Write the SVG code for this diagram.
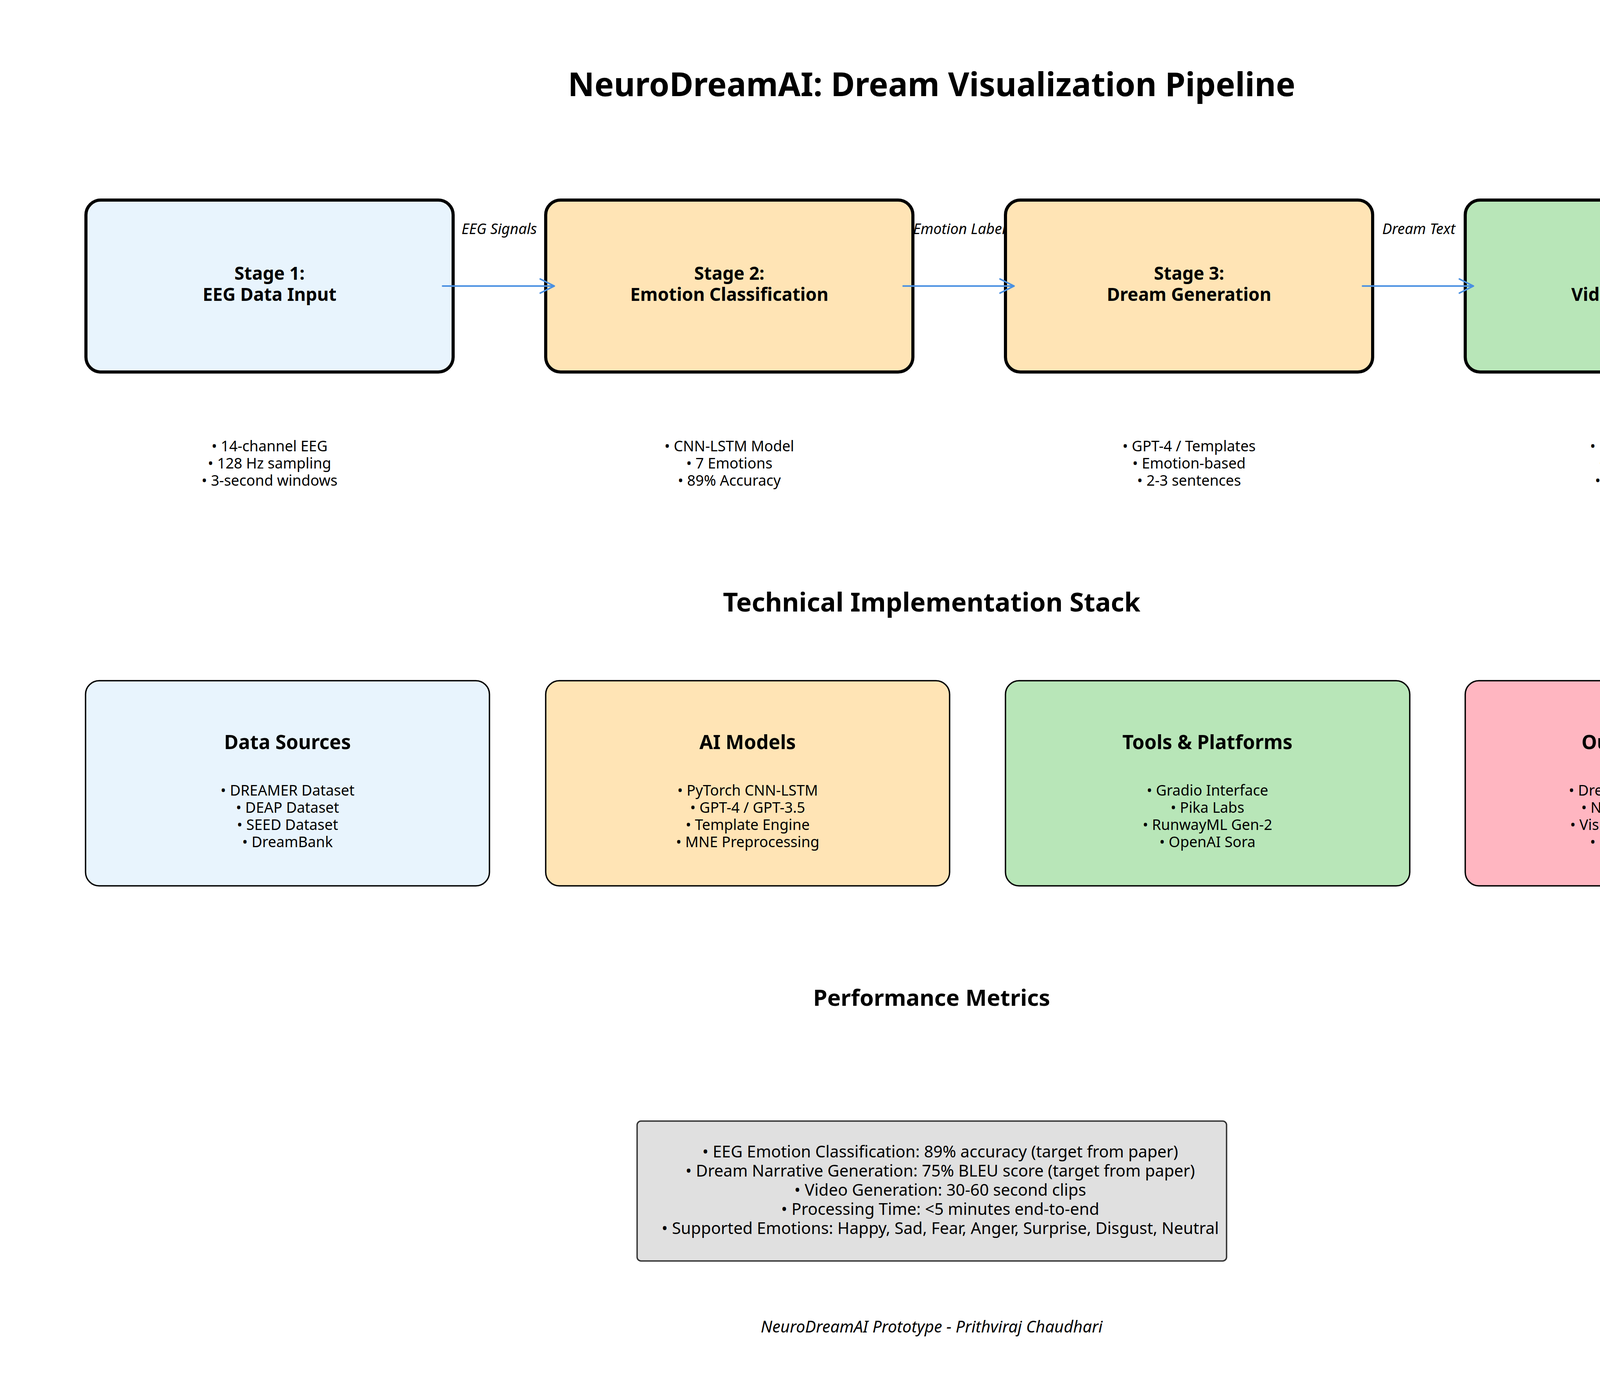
<svg xmlns="http://www.w3.org/2000/svg" width="4770" height="3570" viewBox="0 0 4770 3570">
<defs>
<style>
text{font-family:"Noto Sans","Open Sans","DejaVu Sans",sans-serif;fill:#000;text-anchor:middle}
.h1{font-size:83.5px;font-weight:bold}
.h2{font-size:66.7px;font-weight:bold}
.h3{font-size:58px;font-weight:bold}
.stage{font-size:45.8px;font-weight:bold}
.sub{font-size:37.5px}
.edge{font-size:37.5px;font-style:italic}
.ctitle{font-size:50px;font-weight:bold}
.met{font-size:41.7px}
.foot{font-size:41.7px;font-style:italic}
.sbox{stroke:#000;stroke-width:8}
.tbox{stroke:#000;stroke-width:3.5}
.blue{fill:#E8F4FD}.orange{fill:#FFE4B5}.green{fill:#B8E6B8}.pink{fill:#FFB6C1}
.conn{stroke:#4A90E2;stroke-width:4;fill:none;stroke-linecap:round;stroke-linejoin:round}
</style>
</defs>
<rect x="0" y="0" width="4770" height="3570" fill="#fff"/>
<text class="h1" x="2385" y="246">NeuroDreamAI: Dream Visualization Pipeline</text>

<g id="edge-labels">
<text class="edge" x="1278" y="599">EEG Signals</text>
<text class="edge" x="2456" y="599">Emotion Label</text>
<text class="edge" x="3632" y="599">Dream Text</text>
</g>

<g id="stage1">
<rect class="sbox blue" x="220" y="512" width="940" height="440" rx="38"/>
<text class="stage" x="690" y="716">Stage 1:</text>
<text class="stage" x="690" y="770">EEG Data Input</text>
</g>
<g id="stage2">
<rect class="sbox orange" x="1397" y="512" width="940" height="440" rx="38"/>
<text class="stage" x="1867" y="716">Stage 2:</text>
<text class="stage" x="1867" y="770">Emotion Classification</text>
</g>
<g id="stage3">
<rect class="sbox orange" x="2574" y="512" width="940" height="440" rx="38"/>
<text class="stage" x="3044" y="716">Stage 3:</text>
<text class="stage" x="3044" y="770">Dream Generation</text>
</g>
<g id="stage4">
<rect class="sbox green" x="3751" y="512" width="940" height="440" rx="38"/>
<text class="stage" x="4221" y="716">Stage 4:</text>
<text class="stage" x="4221" y="770">Video Generation</text>
</g>

<g id="connectors">
<path class="conn" d="M1133 732H1419M1383 714L1419 732L1383 750"/>
<path class="conn" d="M2312 732H2596M2560 714L2596 732L2560 750"/>
<path class="conn" d="M3488 732H3772M3736 714L3772 732L3736 750"/>
</g>

<g id="stage1-details">
<text class="sub" x="690" y="1155">• 14-channel EEG</text>
<text class="sub" x="690" y="1199">• 128 Hz sampling</text>
<text class="sub" x="690" y="1243">• 3-second windows</text>
</g>
<g id="stage2-details">
<text class="sub" x="1867" y="1155">• CNN-LSTM Model</text>
<text class="sub" x="1867" y="1199">• 7 Emotions</text>
<text class="sub" x="1867" y="1243">• 89% Accuracy</text>
</g>
<g id="stage3-details">
<text class="sub" x="3044" y="1155">• GPT-4 / Templates</text>
<text class="sub" x="3044" y="1199">• Emotion-based</text>
<text class="sub" x="3044" y="1243">• 2-3 sentences</text>
</g>
<g id="stage4-details">
<text class="sub" x="4221" y="1155">• Pika Labs / Sora</text>
<text class="sub" x="4221" y="1199">• Text-to-Video</text>
<text class="sub" x="4221" y="1243">• 30-60 seconds</text>
</g>

<text class="h2" x="2385" y="1565">Technical Implementation Stack</text>

<g id="data-sources">
<rect class="tbox blue" x="219" y="1742" width="1034" height="525" rx="35"/>
<text class="ctitle" x="736" y="1917">Data Sources</text>
<text class="sub" x="736" y="2036">• DREAMER Dataset</text>
<text class="sub" x="736" y="2080">• DEAP Dataset</text>
<text class="sub" x="736" y="2124">• SEED Dataset</text>
<text class="sub" x="736" y="2168">• DreamBank</text>
</g>
<g id="ai-models">
<rect class="tbox orange" x="1397" y="1742" width="1034" height="525" rx="35"/>
<text class="ctitle" x="1914" y="1917">AI Models</text>
<text class="sub" x="1914" y="2036">• PyTorch CNN-LSTM</text>
<text class="sub" x="1914" y="2080">• GPT-4 / GPT-3.5</text>
<text class="sub" x="1914" y="2124">• Template Engine</text>
<text class="sub" x="1914" y="2168">• MNE Preprocessing</text>
</g>
<g id="tools">
<rect class="tbox green" x="2574" y="1742" width="1035" height="525" rx="35"/>
<text class="ctitle" x="3091" y="1917">Tools &amp; Platforms</text>
<text class="sub" x="3091" y="2036">• Gradio Interface</text>
<text class="sub" x="3091" y="2080">• Pika Labs</text>
<text class="sub" x="3091" y="2124">• RunwayML Gen-2</text>
<text class="sub" x="3091" y="2168">• OpenAI Sora</text>
</g>
<g id="outputs">
<rect class="tbox pink" x="3751" y="1742" width="800" height="525" rx="35"/>
<text class="ctitle" x="4151" y="1917">Outputs</text>
<text class="sub" x="4151" y="2036">• Dream Videos</text>
<text class="sub" x="4151" y="2080">• Narratives</text>
<text class="sub" x="4151" y="2124">• Visualizations</text>
<text class="sub" x="4151" y="2168">• Reports</text>
</g>

<text class="h3" x="2385" y="2574">Performance Metrics</text>

<g id="metrics">
<rect x="1631" y="2869" width="1509" height="358" rx="10" fill="#E0E0E0" stroke="#333" stroke-width="3.5"/>
<text class="met" x="2407" y="2962">• EEG Emotion Classification: 89% accuracy (target from paper)</text>
<text class="met" x="2407" y="3011">• Dream Narrative Generation: 75% BLEU score (target from paper)</text>
<text class="met" x="2407" y="3060">• Video Generation: 30-60 second clips</text>
<text class="met" x="2407" y="3109">• Processing Time: &lt;5 minutes end-to-end</text>
<text class="met" x="2407" y="3158">• Supported Emotions: Happy, Sad, Fear, Anger, Surprise, Disgust, Neutral</text>
</g>

<text class="foot" x="2385" y="3410">NeuroDreamAI Prototype - Prithviraj Chaudhari</text>
</svg>
